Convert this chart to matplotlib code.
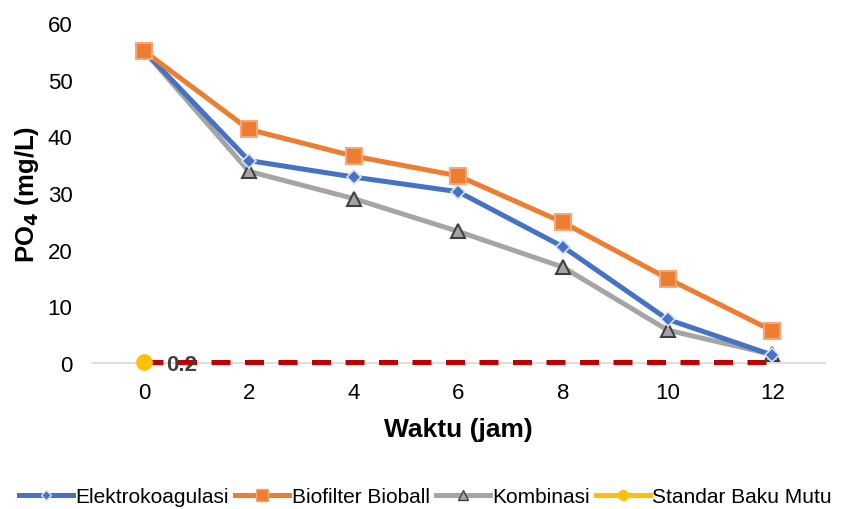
import matplotlib
matplotlib.use("Agg")
import matplotlib.pyplot as plt
from matplotlib.lines import Line2D

plt.rcParams['font.family'] = ['Liberation Sans', 'DejaVu Sans']

waktu = [0, 2, 4, 6, 8, 10, 12]
elektro = [55, 35.7, 32.8, 30.2, 20.5, 7.7, 1.4]
biofilter = [55, 41.2, 36.5, 33.0, 24.8, 14.9, 5.7]
kombinasi = [55, 33.8, 29.0, 23.2, 16.9, 5.8, 1.5]
standar = [0.2] * 7
yticks = [0, 10, 20, 30, 40, 50, 60]

fig = plt.figure(figsize=(8.51, 5.10), dpi=100)
ax = fig.add_axes([0.108, 0.2863, 0.861, 0.667])

ax.plot(waktu, standar, color='#C00000', lw=3.6, ls=(0, (3.8, 2.9)), zorder=3,
        clip_on=False)
ax.plot(waktu[:1], standar[:1], 'o', color='#FFC000', ms=11, zorder=3.5, clip_on=False)

ax.plot(waktu, kombinasi, color='#A5A5A5', lw=3.6, marker='^', ms=10,
        mfc='#A5A5A5', mec='#404040', mew=1.5, zorder=4, clip_on=False)
ax.plot(waktu, elektro, color='#4472C4', lw=3.6, marker='D', ms=7,
        mfc='#4472C4', mec='#D6E0F3', mew=1.2, zorder=5, clip_on=False)
ax.plot(waktu, biofilter, color='#ED7D31', lw=3.6, marker='s', ms=11,
        mfc='#ED7D31', mec='#F8A57A', mew=1.5, zorder=6, clip_on=False)

ax.text(waktu[0] + 0.42, standar[0] - 0.4, '0.2', fontsize=16, fontweight='bold',
        color='#404040', va='center', ha='left', zorder=7)

ax.set_xlim(-1, 13)
ax.set_ylim(0, 60)
ax.set_xticks(waktu)
ax.set_yticks(yticks)
ax.tick_params(axis='both', length=0, labelsize=16, colors='black')
ax.tick_params(axis='y', pad=14)
ax.tick_params(axis='x', pad=14)
for s in ['top', 'right', 'left']:
    ax.spines[s].set_visible(False)
ax.spines['bottom'].set_color('#D9D9D9')
ax.spines['bottom'].set_linewidth(1.2)

ax.set_xlabel('Waktu (jam)', fontsize=19, fontweight='bold', labelpad=10)
ax.set_ylabel('PO$_\\mathbf{4}$ (mg/L)', fontsize=18.5, fontweight='bold', labelpad=5)

handles = [
    Line2D([], [], color='#4472C4', lw=3.6, marker='D', ms=5, mfc='#4472C4', mec='#D6E0F3'),
    Line2D([], [], color='#ED7D31', lw=3.6, marker='s', ms=9, mfc='#ED7D31', mec='#F8A57A'),
    Line2D([], [], color='#A5A5A5', lw=3.6, marker='^', ms=7, mfc='#A5A5A5', mec='#404040'),
    Line2D([], [], color='#FFC000', lw=3.6, marker='o', ms=7, mfc='#FFC000', mec='#FFC000'),
]
labels = ['Elektrokoagulasi', 'Biofilter Bioball', 'Kombinasi', 'Standar Baku Mutu']
fig.legend(handles, labels, loc='center', bbox_to_anchor=(0.5, 1 - 498/510),
           ncol=4, frameon=False, fontsize=15, handlelength=2.6, handletextpad=0.1,
           columnspacing=0.3)

fig.savefig('out.png', dpi=100)
